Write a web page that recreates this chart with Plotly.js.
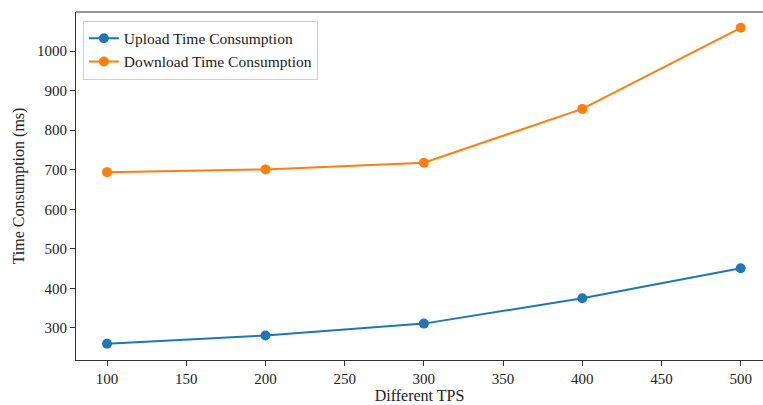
<!DOCTYPE html>
<html>
<head>
<meta charset="utf-8">
<script src="https://cdn.plot.ly/plotly-3.0.1.min.js"></script>
<style>html,body{margin:0;padding:0;background:#fff;}#chart{width:763px;height:405px;}</style>
</head>
<body>
<div id="chart"></div>
<script>
const tps = [100, 200, 300, 400, 500];
const uploadMs = [260, 281, 311, 375, 451];
const downloadMs = [694, 701, 718, 854, 1059];
const xTicks = [100, 150, 200, 250, 300, 350, 400, 450, 500];
const yTicks = [300, 400, 500, 600, 700, 800, 900, 1000];

const fam = 'Times New Roman';
const tickFont = {family: fam, size: 15, color: '#222'};
const titleFont = {family: fam, size: 16, color: '#222'};
const legFont = {family: fam, size: 15.5, color: '#222'};

const traces = [
  {x: tps, y: uploadMs, name: 'Upload Time Consumption', mode: 'lines+markers',
   line: {color: '#1f77b4', width: 2}, marker: {color: '#1f77b4', size: 10}},
  {x: tps, y: downloadMs, name: 'Download Time Consumption', mode: 'lines+markers',
   line: {color: '#ff7f0e', width: 2}, marker: {color: '#ff7f0e', size: 10}}
];

const layout = {
  width: 763, height: 405,
  margin: {l: 76, r: 0, t: 12, b: 45},
  paper_bgcolor: '#fff', plot_bgcolor: '#fff',
  font: tickFont,
  showlegend: true,
  legend: {x: 0.01, y: 0.975, xanchor: 'left', yanchor: 'top',
    bgcolor: 'rgba(255,255,255,0.8)', bordercolor: '#d0d0d0', borderwidth: 1,
    font: legFont, tracegroupgap: 0, itemwidth: 30},
  xaxis: {range: [80.4, 514.1], tickvals: xTicks, ticks: 'outside', ticklen: 5, tickwidth: 1,
    tickcolor: '#333', showline: true, linecolor: '#333', linewidth: 1, showgrid: false,
    zeroline: false, tickfont: tickFont,
    title: {text: 'Different TPS', font: titleFont, standoff: 3}},
  yaxis: {range: [219, 1099], tickvals: yTicks, ticks: 'outside', ticklen: 5, tickwidth: 1,
    tickcolor: '#333', showline: true, linecolor: '#333', linewidth: 1, showgrid: false,
    zeroline: false, tickfont: tickFont,
    title: {text: 'Time Consumption (ms)', font: titleFont, standoff: 8}},
  shapes: [{type: 'line', xref: 'paper', yref: 'paper', x0: 0, x1: 1, y0: 1, y1: 1,
    line: {color: '#333', width: 1}}]
};

Plotly.newPlot('chart', traces, layout, {displayModeBar: false, staticPlot: true});
</script>
</body>
</html>
